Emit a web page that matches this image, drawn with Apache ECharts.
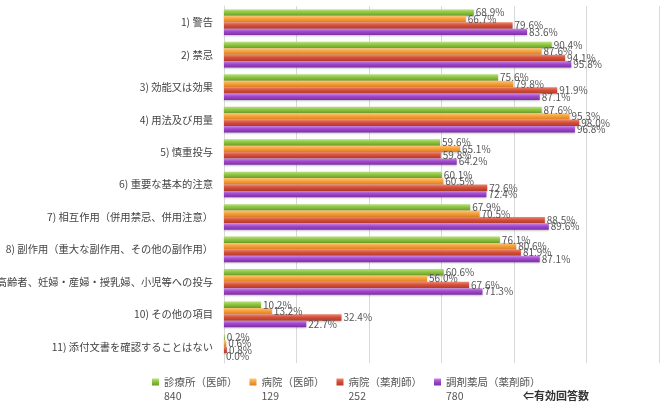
<!DOCTYPE html>
<html>
<head>
<meta charset="utf-8">
<script src="https://cdn.jsdelivr.net/npm/echarts@6/dist/echarts.min.js"></script>
<style>
  html, body { margin: 0; padding: 0; background: #fff; }
  #chart { width: 660px; height: 414px; }
</style>
</head>
<body>
<div id="chart"></div>
<script>
const categories = [
  '1) 警告',
  '2) 禁忌',
  '3) 効能又は効果',
  '4) 用法及び用量',
  '5) 慎重投与',
  '6) 重要な基本的注意',
  '7) 相互作用（併用禁忌、併用注意）',
  '8) 副作用（重大な副作用、その他の副作用）',
  '9)高齢者、妊婦・産婦・授乳婦、小児等への投与',
  '10) その他の項目',
  '11) 添付文書を確認することはない'
]

const seriesNames = ['診療所（医師）', '病院（医師）', '病院（薬剤師）', '調剤薬局（薬剤師）']
const answerCounts = [840, 129, 252, 780]

const clinicDoctor = [68.9, 90.4, 75.6, 87.6, 59.6, 60.1, 67.9, 76.1, 60.6, 10.2, 0.2]
const hospitalDoctor = [66.7, 87.6, 79.8, 95.3, 65.1, 60.5, 70.5, 80.6, 56.0, 13.2, 0.6]
const hospitalPharmacist = [79.6, 94.1, 91.9, 98.0, 59.8, 72.6, 88.5, 81.9, 67.6, 32.4, 0.8]
const pharmacyPharmacist = [83.6, 95.8, 87.1, 96.8, 64.2, 72.4, 89.6, 87.1, 71.3, 22.7, 0.0]

const seriesData = [clinicDoctor, hospitalDoctor, hospitalPharmacist, pharmacyPharmacist]

// light / base / dark for the rounded bar look
const palette = [
  ['#b8e07e', '#8cc63f', '#6b9c2c'],
  ['#fcc77c', '#f7a13b', '#d8801f'],
  ['#ec8774', '#d6503a', '#b03a29'],
  ['#c888e6', '#a148cc', '#7c2fa6']
]

const FONT = '"Noto Sans CJK JP", "Noto Sans", sans-serif'

const chart = echarts.init(document.getElementById('chart'))

function barGradient(c) {
  return new echarts.graphic.LinearGradient(0, 0, 0, 1, [
    { offset: 0, color: c[0] },
    { offset: 0.45, color: c[1] },
    { offset: 1, color: c[2] }
  ])
}

chart.setOption({
  animation: false,
  textStyle: { fontFamily: FONT },
  title: {
    text: '⇐有効回答数',
    left: 518,
    top: 385,
    textStyle: { fontSize: 11, fontWeight: 'bold', color: '#333', fontFamily: FONT }
  },
  legend: {
    data: seriesNames,
    left: 152,
    top: 361,
    padding: 0,
    itemWidth: 7,
    itemHeight: 7,
    itemGap: 12,
    icon: 'rect',
    // blank first line so the name sits level with the icon, count below it
    formatter: name => ' \n' + name + '\n' + answerCounts[seriesNames.indexOf(name)],
    textStyle: {
      fontSize: 10.5,
      color: '#555',
      lineHeight: 14,
      fontFamily: FONT
    }
  },
  grid: { left: 224, right: 1, top: 6, height: 357, outerBoundsMode: 'none' },
  xAxis: {
    type: 'value',
    min: 0,
    max: 120,
    interval: 20,
    axisLabel: { show: false },
    axisLine: { show: false },
    axisTick: { show: false },
    splitLine: { lineStyle: { color: '#d9d9d9' } }
  },
  yAxis: {
    type: 'category',
    inverse: true,
    data: categories,
    axisLine: { show: true, lineStyle: { color: '#d9d9d9' } },
    axisTick: { show: false },
    axisLabel: { fontSize: 10.3, color: '#444', margin: 11, fontFamily: FONT }
  },
  series: seriesData.map((d, i) => ({
    name: seriesNames[i],
    type: 'bar',
    data: d,
    barGap: '0%',
    barCategoryGap: '21%',
    itemStyle: {
      color: barGradient(palette[i]),
      shadowColor: 'rgba(0,0,0,0.25)',
      shadowBlur: 2,
      shadowOffsetY: 1
    },
    label: {
      show: true,
      position: 'right',
      distance: 2,
      fontSize: 10,
      color: '#555',
      fontFamily: FONT,
      formatter: p => p.value.toFixed(1) + '%'
    }
  }))
})
</script>
</body>
</html>
